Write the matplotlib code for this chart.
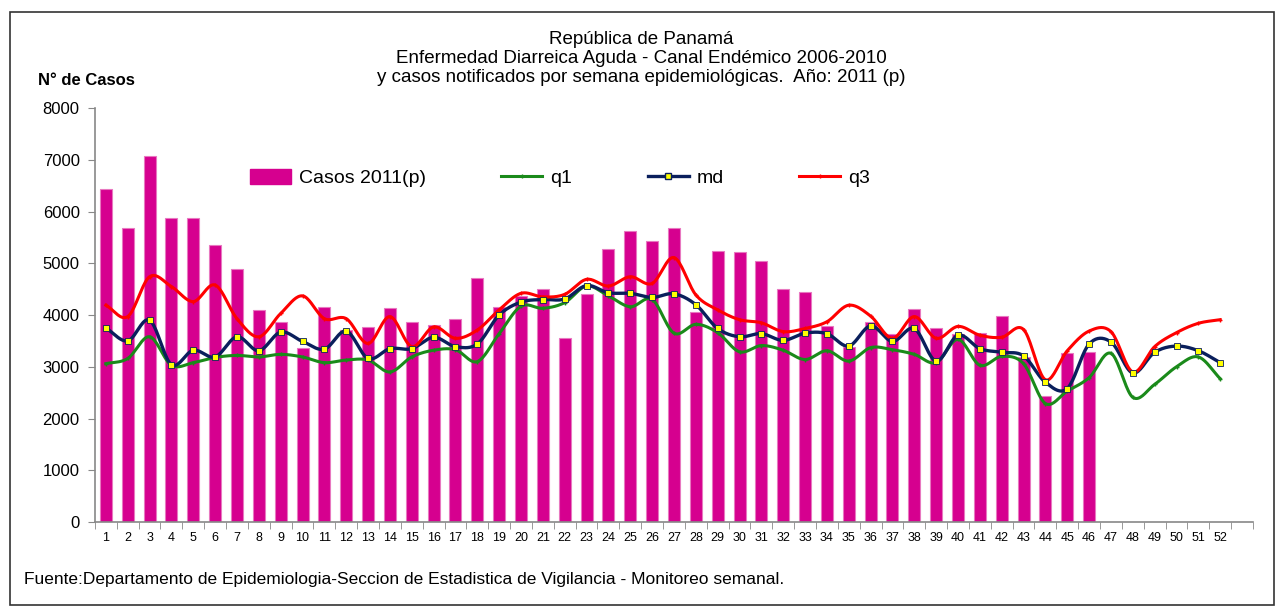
import numpy as np
import matplotlib.pyplot as plt
from matplotlib.patches import Rectangle
from matplotlib.lines import Line2D

plt.rcParams['font.family'] = ['Liberation Sans', 'DejaVu Sans']

# semanas epidemiologicas
semanas = list(range(1, 53))

# casos 2011 (p), semanas 1-46
casos_2011 = [6440, 5690, 7070, 5880, 5880, 5360, 4890, 4100, 3860, 3370,
              4160, 3710, 3770, 4130, 3860, 3800, 3920, 4720, 4150, 4360,
              4500, 3550, 4400, 5270, 5620, 5440, 5690, 4060, 5230, 5210,
              5040, 4510, 4440, 3790, 3380, 3860, 3630, 4110, 3740, 3640,
              3660, 3980, 3190, 2430, 3260, 3280]

q1 = [3060, 3160, 3580, 3030, 3080, 3180, 3220, 3190, 3240, 3190,
      3080, 3130, 3130, 2900, 3190, 3320, 3330, 3100, 3640, 4170,
      4130, 4240, 4560, 4370, 4160, 4300, 3650, 3820, 3660, 3290,
      3410, 3320, 3140, 3310, 3110, 3370, 3330, 3240, 3080, 3530,
      3030, 3200, 3060, 2290, 2530, 2790, 3260, 2410, 2660, 3000,
      3190, 2770]

md = [3750, 3500, 3900, 3040, 3320, 3190, 3580, 3310, 3670, 3490,
      3340, 3690, 3160, 3350, 3350, 3570, 3390, 3440, 4000, 4250,
      4300, 4310, 4570, 4430, 4420, 4340, 4410, 4200, 3740, 3580,
      3640, 3510, 3650, 3640, 3400, 3790, 3490, 3740, 3110, 3610,
      3350, 3280, 3210, 2700, 2580, 3440, 3480, 2880, 3280, 3400,
      3310, 3080]

q3 = [4190, 3970, 4740, 4550, 4260, 4580, 3930, 3580, 4030, 4370,
      3930, 3930, 3450, 3970, 3390, 3770, 3550, 3710, 4100, 4420,
      4350, 4400, 4690, 4560, 4740, 4610, 5110, 4390, 4100, 3910,
      3850, 3680, 3740, 3870, 4190, 3980, 3550, 3970, 3550, 3780,
      3610, 3570, 3720, 2750, 3310, 3690, 3680, 2900, 3390, 3660,
      3840, 3910]

y_ticks = [0, 1000, 2000, 3000, 4000, 5000, 6000, 7000, 8000]


def suave(x, y, n=20):
    # curva suavizada tipo Excel (Catmull-Rom) solo para dibujar
    x = np.asarray(x, float)
    y = np.asarray(y, float)
    px = np.concatenate([[2 * x[0] - x[1]], x, [2 * x[-1] - x[-2]]])
    py = np.concatenate([[2 * y[0] - y[1]], y, [2 * y[-1] - y[-2]]])
    xs, ys = [], []
    t = np.linspace(0, 1, n, endpoint=False)
    for i in range(1, len(px) - 2):
        for p, out in ((px, xs), (py, ys)):
            p0, p1, p2, p3 = p[i - 1], p[i], p[i + 1], p[i + 2]
            c1 = p1 + (p2 - p0) / 6
            c2 = p2 - (p3 - p1) / 6
            out.extend((1 - t) ** 3 * p1 + 3 * (1 - t) ** 2 * t * c1
                       + 3 * (1 - t) * t ** 2 * c2 + t ** 3 * p2)
    xs.append(x[-1])
    ys.append(y[-1])
    return np.array(xs), np.array(ys)


fig = plt.figure(figsize=(12.83, 6.12), dpi=100)
ax = fig.add_axes([0.074, 0.147, 0.9026, 0.6765])

sem_casos = semanas[:len(casos_2011)]
ax.bar(sem_casos, casos_2011, width=0.55, color='#D6008F',
       edgecolor='#E878C0', linewidth=0.8, zorder=1)

verde = '#1A8A1A'
azul = '#0A1F5C'
rojo = '#FF0000'

x, y = suave(semanas, q1)
ax.plot(x, y, color=verde, lw=2.2, zorder=2)
ax.plot(semanas, q1, ls='none', marker='+', ms=3, color=verde, zorder=2)

x, y = suave(semanas, md)
ax.plot(x, y, color=azul, lw=2.4, zorder=3)
ax.plot(semanas, md, ls='none', marker='s', ms=4.5, mfc='#FFFF00',
        mec=azul, mew=0.6, zorder=4)

x, y = suave(semanas, q3)
ax.plot(x, y, color=rojo, lw=2.2, zorder=3)
ax.plot(semanas, q3, ls='none', marker='+', ms=3, color=rojo, zorder=3)

ax.set_xlim(0.5, 53.5)
ax.set_ylim(0, 8000)
ax.set_yticks(y_ticks)
ax.set_yticklabels([str(v) for v in y_ticks], fontsize=12)
ax.set_xticks(semanas)
ax.set_xticklabels([str(s) for s in semanas], fontsize=9)
ax.set_xticks(np.arange(0.5, 54, 1), minor=True)
ax.tick_params(axis='x', which='major', length=0, pad=7)
ax.tick_params(axis='x', which='minor', length=5, color='#888888')
ax.tick_params(axis='y', length=5, color='#888888', pad=6)
for s in ['top', 'right']:
    ax.spines[s].set_visible(False)
for s in ['left', 'bottom']:
    ax.spines[s].set_color('#888888')
    ax.spines[s].set_linewidth(1.2)

handles = [
    Rectangle((0, 0), 1, 1, color='#D6008F'),
    Line2D([], [], color=verde, lw=2.2, marker='+', ms=3),
    Line2D([], [], color=azul, lw=2.4, marker='s', ms=4, mfc='#FFFF00', mec=azul),
    Line2D([], [], color=rojo, lw=2.2, marker='+', ms=3),
]
ax.legend(handles, ['Casos 2011(p)', 'q1', 'md', 'q3'], ncol=4, frameon=False,
          fontsize=14, loc='center', bbox_to_anchor=(0.4016, 0.83),
          columnspacing=3.9, handlelength=2.1, handleheight=0.8,
          handletextpad=0.4)

fig.text(0.5, 0.935, 'República de Panamá', ha='center', va='center', fontsize=13.5)
fig.text(0.5, 0.905, 'Enfermedad Diarreica Aguda - Canal Endémico 2006-2010',
         ha='center', va='center', fontsize=13.5)
fig.text(0.5, 0.873, 'y casos notificados por semana epidemiológicas.  Año: 2011 (p)',
         ha='center', va='center', fontsize=13.5)
fig.text(0.03, 0.869, 'N° de Casos', ha='left', va='center', fontsize=12,
         fontweight='bold')
fig.text(0.019, 0.053, 'Fuente:Departamento de Epidemiologia-Seccion de Estadistica '
         'de Vigilancia - Monitoreo semanal.', ha='left', va='center',
         fontsize=12.5)

fig.patches.append(Rectangle((0.008, 0.012), 0.985, 0.968, transform=fig.transFigure,
                             fill=False, edgecolor='#333333', lw=1.2))

fig.savefig('out.png', dpi=100)
